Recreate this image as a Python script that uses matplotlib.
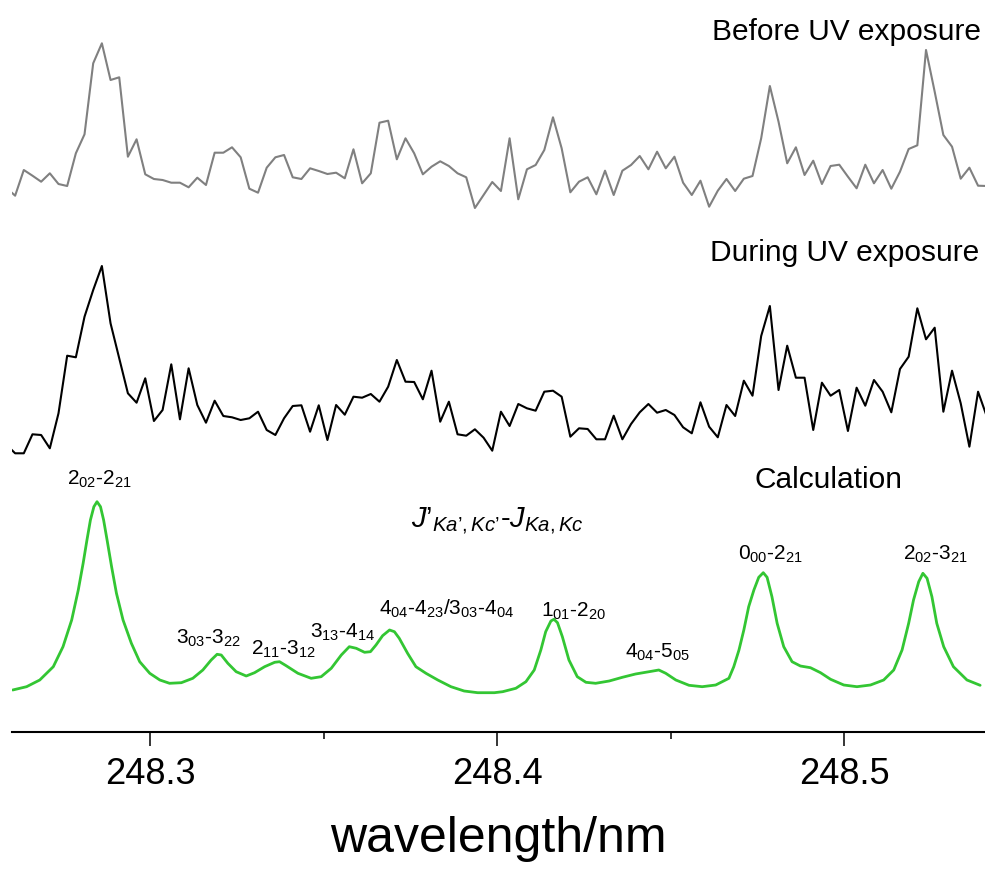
import numpy as np
import matplotlib
matplotlib.use("Agg")
import matplotlib.pyplot as plt

plt.rcParams['font.family'] = 'Liberation Sans'
plt.rcParams['mathtext.fontset'] = 'custom'
plt.rcParams['mathtext.rm'] = 'Liberation Sans'
plt.rcParams['mathtext.it'] = 'Liberation Sans:italic'

# measured scans, one point every 0.0025 nm (arb. units)
scan_start = 248.2586
scan_step = 0.0025

before_uv = [22.1, 14.3, 40, 34.3, 28.3, 36.7, 26, 24, 56.7, 75.7, 146.7, 166.7, 130, 132.7,
             53.3, 70.7, 35.7, 31, 30, 27.3, 27.3, 22.7, 32.3, 25, 57.3, 57.3, 62.7, 52.7,
             21.3, 17.3, 42.3, 52.7, 55, 32.7, 31, 41.7, 39, 36, 37.3, 31.7, 60.7, 26.7,
             36.7, 87.3, 89.3, 50.7, 71.7, 56.7, 35.7, 43.3, 48.7, 44, 36.7, 32.7, 2, 15,
             28, 19, 71.7, 10.7, 40.7, 45, 60, 92.7, 61.7, 17.7, 28.3, 32.7, 15.7, 39.3,
             15, 39.3, 45, 54, 40.7, 58.3, 41.7, 53.3, 27.3, 15, 29.3, 3.3, 19.3, 31, 19,
             31.3, 34, 71.7, 124, 88.3, 46.7, 62.7, 35, 49.3, 26, 44, 45.3, 33.3, 21.7,
             45.3, 26.7, 40, 21.3, 38.3, 61, 64.7, 160, 118.3, 75, 63.3, 31.3, 42.3, 24.3, 24]

during_uv = [25.3, 16.7, 16.7, 35.7, 35, 21.7, 56.7, 114.3, 112.7, 153.3, 180, 204, 146.7,
             111.7, 76.7, 67.3, 91.7, 49, 60, 105.7, 50.7, 101.7, 65, 47.3, 69.3, 54, 52.7,
             50, 51.7, 58.3, 40, 35, 51.7, 64, 64.7, 38.3, 64.7, 30, 65, 55.3, 73.3, 72.3,
             76, 68.3, 83.3, 110, 88.3, 88, 70.7, 99.3, 48.3, 68.3, 35.7, 34.3, 40.7, 32.3,
             19.3, 58.3, 44, 66, 61.7, 59.3, 78.3, 79.3, 73.3, 33.3, 41.7, 41, 30.7, 30.7,
             54.3, 30.7, 46, 57.7, 66, 57.3, 60, 55, 42.7, 36.7, 67.7, 43.3, 32.7, 65, 54,
             89.3, 74.3, 134, 164, 80, 124.3, 92.3, 92.3, 40, 87.3, 74.3, 80, 39, 82.3, 64.3,
             90, 78.3, 57.7, 101, 113.3, 161.7, 130.7, 142.3, 58.3, 99.3, 66.7, 23.3, 78.3, 53.7]

# calculated spectrum
calc_wl = [248.2604, 248.2644, 248.2682, 248.2721, 248.2749, 248.2774, 248.2793, 248.2807,
           248.2818, 248.2828, 248.2838, 248.2847, 248.2857, 248.2866, 248.2876, 248.2889,
           248.2903, 248.2922, 248.2946, 248.2970, 248.2999, 248.3028, 248.3056, 248.3090,
           248.3123, 248.3152, 248.3176, 248.3193, 248.3205, 248.3224, 248.3248, 248.3277,
           248.3301, 248.3330, 248.3359, 248.3373, 248.3392, 248.3426, 248.3464, 248.3493,
           248.3522, 248.3551, 248.3574, 248.3594, 248.3618, 248.3635, 248.3651, 248.3670,
           248.3690, 248.3704, 248.3718, 248.3742, 248.3766, 248.3795, 248.3829, 248.3867,
           248.3905, 248.3944, 248.3992, 248.4016, 248.4054, 248.4083, 248.4107, 248.4126,
           248.4140, 248.4155, 248.4164, 248.4174, 248.4188, 248.4207, 248.4231, 248.4256,
           248.4284, 248.4323, 248.4361, 248.4399, 248.4438, 248.4466, 248.4486, 248.4515,
           248.4553, 248.4591, 248.4630, 248.4668, 248.4682, 248.4697, 248.4711, 248.4725,
           248.4740, 248.4754, 248.4767, 248.4778, 248.4792, 248.4807, 248.4826, 248.4850,
           248.4874, 248.4903, 248.4932, 248.4961, 248.4999, 248.5037, 248.5076, 248.5114,
           248.5143, 248.5167, 248.5186, 248.5200, 248.5215, 248.5227, 248.5239, 248.5253,
           248.5267, 248.5287, 248.5315, 248.5354, 248.5392]
calc_int = [10, 13.3, 20, 33.3, 53.3, 80, 110, 136.7, 160, 180, 193.3, 198.3, 193.3, 180, 160,
            133.3, 106.7, 80, 56.7, 38.3, 26.7, 20, 16.7, 17.3, 21.7, 30, 40, 45.7, 45, 36.7,
            28.3, 24, 27.3, 33.3, 37.7, 38.3, 34.3, 26.7, 21.7, 23.3, 31.7, 45, 53.3, 51.7,
            47.7, 48.3, 55, 64.3, 70, 68.3, 61.7, 46.7, 33.3, 26.7, 20, 13.3, 9, 7.3, 7.3,
            8.3, 11.7, 18.3, 30, 50, 68.3, 79, 80.7, 77.3, 63.3, 40, 23.3, 17.7, 16.7, 19,
            22.7, 26, 28.3, 30, 26.7, 20, 14.7, 13.3, 15, 21.7, 33.3, 50, 70, 93.3, 110,
            122.7, 127.3, 122.7, 103.3, 76.7, 53.3, 38.3, 34, 32.3, 27.3, 20.7, 15, 13.3, 15,
            20, 30, 50, 76.7, 100, 118.3, 126.7, 121.7, 103.3, 76.7, 53.3, 33.3, 20, 14.7]

peak_names = [r'$2_{02}$-$2_{21}$', r'$3_{03}$-$3_{22}$', r'$2_{11}$-$3_{12}$',
              r'$3_{13}$-$4_{14}$', r'$4_{04}$-$4_{23}$/$3_{03}$-$4_{04}$',
              r'$1_{01}$-$2_{20}$', r'$4_{04}$-$5_{05}$', r'$0_{00}$-$2_{21}$',
              r'$2_{02}$-$3_{21}$']
trace_names = ['Before UV exposure', 'During UV exposure', 'Calculation']
xtick_values = [248.3, 248.4, 248.5]
xtick_labels = ['248.3', '248.4', '248.5']

wl = scan_start + scan_step * np.arange(len(before_uv))

fig = plt.figure(figsize=(9.85, 8.69), dpi=100)
ax = fig.add_axes([12 / 985, 137 / 869, 973 / 985, 732 / 869])

# stacked traces
ax.plot(wl, np.array(before_uv) + 522, color='#808080', lw=1.5)
ax.plot(wl, np.array(during_uv) + 262, color='black', lw=1.5)
ax.plot(calc_wl, np.array(calc_int) + 32, color='#33C633', lw=2.0,
        solid_joinstyle='round', solid_capstyle='round')

ax.set_xlim(248.2602, 248.5406)
ax.set_ylim(0, 732)
for s in ['left', 'right', 'top']:
    ax.spines[s].set_visible(False)
ax.spines['bottom'].set_linewidth(1.5)
ax.set_yticks([])
ax.set_xticks(xtick_values)
ax.set_xticklabels(xtick_labels)
ax.set_xticks([248.35, 248.45], minor=True)
ax.tick_params(axis='x', which='major', length=10, width=1.1, labelsize=26, pad=8)
ax.tick_params(axis='x', which='minor', length=5, width=1.1)

ax.set_xlabel('wavelength/nm', fontsize=36, va='baseline')
ax.xaxis.set_label_coords(0.5, -0.164)

# trace titles
ax.text(248.5395, 692, trace_names[0], fontsize=21.5, ha='right', va='baseline')
ax.text(248.5390, 471, trace_names[1], fontsize=21.5, ha='right', va='baseline')
ax.text(248.4956, 244, trace_names[2], fontsize=21.5, ha='center', va='baseline')

# transition labels
label_x = [248.2853, 248.3167, 248.3383, 248.3556, 248.3853, 248.4219, 248.4461, 248.4787, 248.5262]
label_y = [247, 88, 77, 94, 117, 115, 74, 172, 172]
for name, lx, ly in zip(peak_names, label_x, label_y):
    ax.text(lx, ly, name, fontsize=15, ha='center', va='baseline')

ax.text(248.4, 204, "$J\u2019_{Ka\u2019,Kc\u2019}$-$J_{Ka,Kc}$", fontsize=21, ha='center', va='baseline')

fig.savefig('out.png', dpi=100)
